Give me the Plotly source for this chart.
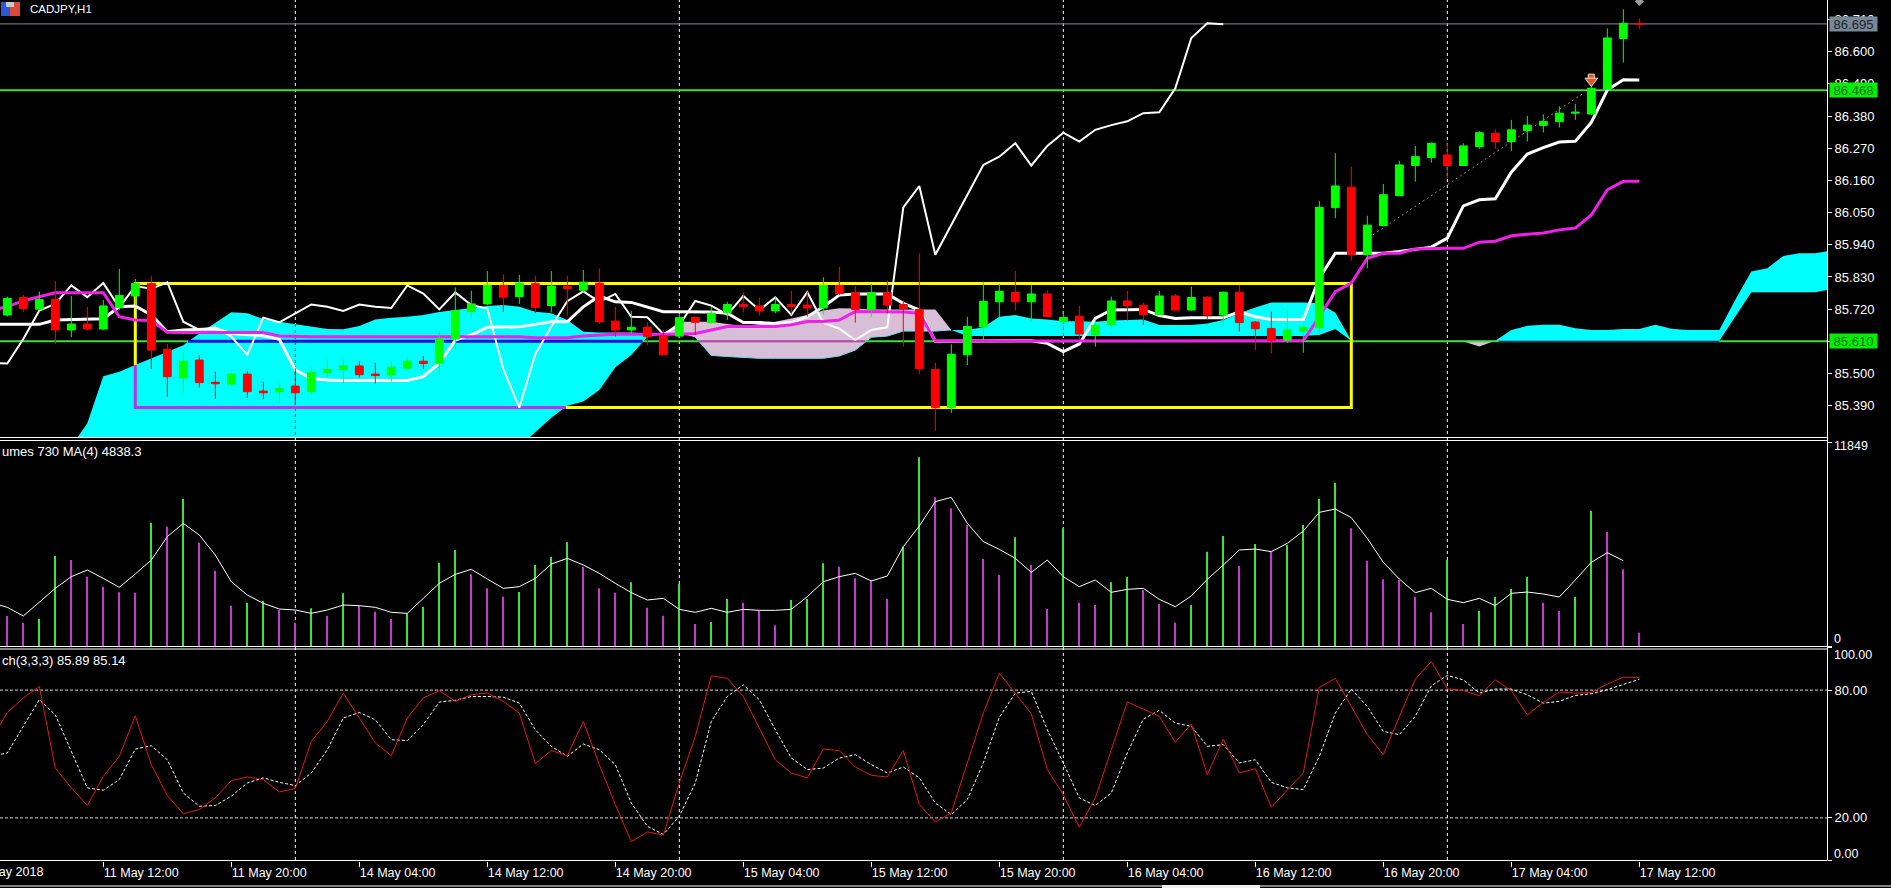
import plotly.graph_objects as go

W, H = 1891, 888

opens = [85.700, 85.760, 85.720, 85.753, 85.649, 85.669, 85.652, 85.726, 85.765, 85.808,
         85.583, 85.485, 85.546, 85.470, 85.464, 85.498, 85.440, 85.438, 85.457, 85.438,
         85.503, 85.514, 85.526, 85.498, 85.495, 85.518, 85.542, 85.535, 85.618, 85.712,
         85.738, 85.801, 85.763, 85.808, 85.732, 85.798, 85.785, 85.809, 85.679, 85.649,
         85.658, 85.628, 85.628, 85.692, 85.674, 85.708, 85.737, 85.731, 85.714, 85.736,
         85.734, 85.724, 85.801, 85.777, 85.719, 85.777, 85.736, 85.719, 85.514, 85.383,
         85.564, 85.659, 85.745, 85.777, 85.745, 85.772, 85.679, 85.696, 85.632, 85.667,
         85.748, 85.733, 85.701, 85.765, 85.717, 85.761, 85.700, 85.778, 85.676, 85.654,
         85.614, 85.645, 85.657, 86.067, 86.137, 85.906, 86.006, 86.108, 86.211, 86.238,
         86.247, 86.211, 86.275, 86.321, 86.293, 86.330, 86.348, 86.361, 86.390, 86.387,
         86.472, 86.645, 86.697]
highs = [85.763, 85.768, 85.780, 85.816, 85.765, 85.728, 85.751, 85.857, 85.823, 85.833,
         85.601, 85.578, 85.563, 85.506, 85.501, 85.509, 85.472, 85.475, 85.518, 85.521,
         85.554, 85.548, 85.543, 85.537, 85.540, 85.555, 85.560, 85.646, 85.794, 85.783,
         85.850, 85.839, 85.837, 85.833, 85.850, 85.833, 85.854, 85.859, 85.728, 85.714,
         85.675, 85.649, 85.706, 85.694, 85.728, 85.745, 85.776, 85.759, 85.763, 85.783,
         85.780, 85.829, 85.865, 85.799, 85.808, 85.819, 85.751, 85.911, 85.537, 85.600,
         85.694, 85.813, 85.808, 85.850, 85.802, 85.785, 85.714, 85.731, 85.685, 85.763,
         85.783, 85.742, 85.782, 85.772, 85.797, 85.765, 85.780, 85.802, 85.679, 85.711,
         85.715, 85.671, 86.090, 86.253, 86.207, 86.039, 86.148, 86.227, 86.278, 86.290,
         86.287, 86.287, 86.329, 86.335, 86.367, 86.381, 86.386, 86.413, 86.422, 86.492,
         86.680, 86.745, 86.714]
lows = [85.694, 85.711, 85.717, 85.601, 85.624, 85.649, 85.649, 85.717, 85.734, 85.515,
        85.421, 85.434, 85.452, 85.413, 85.457, 85.416, 85.413, 85.398, 85.392, 85.427,
        85.487, 85.466, 85.486, 85.466, 85.472, 85.514, 85.515, 85.495, 85.584, 85.691,
        85.734, 85.711, 85.738, 85.706, 85.709, 85.698, 85.776, 85.669, 85.626, 85.637,
        85.597, 85.563, 85.620, 85.632, 85.671, 85.683, 85.709, 85.698, 85.706, 85.702,
        85.694, 85.703, 85.768, 85.674, 85.694, 85.706, 85.592, 85.498, 85.304, 85.366,
        85.529, 85.614, 85.688, 85.715, 85.677, 85.692, 85.654, 85.617, 85.592, 85.654,
        85.681, 85.666, 85.699, 85.715, 85.715, 85.685, 85.663, 85.643, 85.580, 85.569,
        85.605, 85.571, 85.632, 86.031, 85.886, 85.860, 86.002, 86.107, 86.156, 86.221,
        86.168, 86.210, 86.268, 86.268, 86.261, 86.293, 86.324, 86.341, 86.367, 86.384,
        86.469, 86.563, 86.677]
closes = [85.757, 85.722, 85.753, 85.649, 85.669, 85.652, 85.731, 85.767, 85.808, 85.580,
          85.489, 85.542, 85.469, 85.465, 85.498, 85.438, 85.434, 85.449, 85.434, 85.504,
          85.514, 85.526, 85.496, 85.493, 85.521, 85.542, 85.534, 85.618, 85.715, 85.738,
          85.801, 85.761, 85.809, 85.726, 85.799, 85.790, 85.812, 85.677, 85.649, 85.658,
          85.626, 85.564, 85.691, 85.675, 85.706, 85.736, 85.728, 85.714, 85.736, 85.728,
          85.724, 85.801, 85.773, 85.719, 85.777, 85.734, 85.722, 85.516, 85.383, 85.566,
          85.661, 85.747, 85.781, 85.745, 85.772, 85.694, 85.692, 85.635, 85.665, 85.748,
          85.732, 85.701, 85.765, 85.717, 85.760, 85.700, 85.778, 85.674, 85.653, 85.614,
          85.649, 85.658, 86.068, 86.141, 85.906, 86.007, 86.111, 86.213, 86.241, 86.287,
          86.211, 86.278, 86.323, 86.293, 86.333, 86.349, 86.362, 86.390, 86.393, 86.475,
          86.647, 86.697, 86.694]

# indicator lists start one bar earlier, at the bar cut off by the left edge
tenkan = [85.668, 85.668, 85.668, 85.668, 85.683, 85.685, 85.685, 85.687, 85.728, 85.731, 85.700,
          85.643, 85.649, 85.651, 85.653, 85.637, 85.632, 85.629, 85.617, 85.512, 85.483,
          85.478, 85.476, 85.476, 85.476, 85.476, 85.476, 85.489, 85.535, 85.614, 85.632,
          85.658, 85.658, 85.660, 85.668, 85.677, 85.677, 85.728, 85.765, 85.745, 85.743,
          85.728, 85.711, 85.711, 85.711, 85.710, 85.706, 85.674, 85.674, 85.671, 85.674,
          85.694, 85.728, 85.768, 85.772, 85.772, 85.772, 85.740, 85.717, 85.610, 85.610,
          85.610, 85.610, 85.610, 85.610, 85.612, 85.603, 85.575, 85.601, 85.688, 85.717,
          85.719, 85.719, 85.698, 85.688, 85.691, 85.691, 85.691, 85.711, 85.694, 85.685,
          85.685, 85.685, 85.826, 85.911, 85.911, 85.911, 85.911, 85.917, 85.925, 85.932,
          85.963, 86.073, 86.094, 86.097, 86.188, 86.250, 86.272, 86.291, 86.294, 86.358,
          86.469, 86.504, 86.503]
kijun = [85.717, 85.728, 85.749, 85.763, 85.776, 85.776, 85.776, 85.776, 85.694, 85.683, 85.681,
         85.641, 85.640, 85.640, 85.640, 85.640, 85.640, 85.640, 85.628, 85.626, 85.626,
         85.626, 85.626, 85.626, 85.626, 85.626, 85.626, 85.626, 85.626, 85.626, 85.626,
         85.626, 85.626, 85.626, 85.622, 85.622, 85.622, 85.628, 85.632, 85.634, 85.634,
         85.634, 85.632, 85.634, 85.637, 85.649, 85.661, 85.661, 85.661, 85.661, 85.667,
         85.678, 85.678, 85.683, 85.712, 85.712, 85.712, 85.710, 85.706, 85.611, 85.611,
         85.611, 85.611, 85.611, 85.611, 85.611, 85.611, 85.611, 85.611, 85.611, 85.611,
         85.611, 85.611, 85.611, 85.611, 85.611, 85.611, 85.611, 85.611, 85.611, 85.611,
         85.611, 85.612, 85.695, 85.780, 85.809, 85.894, 85.911, 85.911, 85.926, 85.928,
         85.928, 85.928, 85.949, 85.952, 85.971, 85.976, 85.980, 85.991, 85.997, 86.042,
         86.128, 86.157, 86.157]
chikou = [85.537, 85.534, 85.618, 85.715, 85.738, 85.801, 85.761, 85.809, 85.726, 85.799, 85.790,
          85.812, 85.677, 85.649, 85.658, 85.626, 85.564, 85.691, 85.675, 85.706, 85.736,
          85.728, 85.714, 85.736, 85.728, 85.724, 85.801, 85.773, 85.719, 85.777, 85.734,
          85.722, 85.516, 85.383, 85.566, 85.661, 85.747, 85.781, 85.745, 85.772, 85.694,
          85.692, 85.635, 85.665, 85.748, 85.732, 85.701, 85.765, 85.717, 85.760, 85.700,
          85.778, 85.674, 85.653, 85.614, 85.649, 85.658, 86.068, 86.141, 85.906, 86.007,
          86.111, 86.213, 86.241, 86.287, 86.211, 86.278, 86.323, 86.293, 86.333, 86.349,
          86.362, 86.390, 86.393, 86.475, 86.647, 86.697, 86.694]

# cloud runs from bar 4 to bar 114, past the last candle
cloud_start = 4
span_a = [85.250, 85.330, 85.491, 85.506, 85.529, 85.552, 85.575, 85.597, 85.637, 85.674,
          85.709, 85.706, 85.686, 85.677, 85.669, 85.662, 85.652, 85.651, 85.662, 85.685,
          85.691, 85.694, 85.700, 85.710, 85.717, 85.726, 85.731, 85.734, 85.728, 85.711,
          85.706, 85.683, 85.643, 85.640, 85.640, 85.640, 85.637, 85.634,
          85.637, 85.624, 85.562, 85.558, 85.554, 85.552, 85.552, 85.552, 85.552, 85.552,
          85.560, 85.580, 85.624, 85.628, 85.645, 85.645, 85.645, 85.649,
          85.649, 85.658, 85.694, 85.700, 85.688, 85.685, 85.679, 85.679, 85.677, 85.681,
          85.683, 85.685, 85.666, 85.666, 85.666, 85.671, 85.683, 85.706, 85.726, 85.743,
          85.743, 85.743, 85.740, 85.708, 85.612,
          85.612, 85.612, 85.612, 85.612, 85.612, 85.612, 85.609, 85.592, 85.612,
          85.649, 85.663, 85.667, 85.667, 85.655, 85.649, 85.649, 85.652, 85.652, 85.667,
          85.653, 85.649, 85.649, 85.649, 85.752, 85.849, 85.860, 85.902, 85.911, 85.911, 85.920]
span_b = [85.250, 85.250, 85.250, 85.250, 85.250, 85.250, 85.250, 85.250, 85.250, 85.250,
          85.250, 85.250, 85.250, 85.250, 85.250, 85.250, 85.250, 85.250, 85.250, 85.250,
          85.250, 85.250, 85.250, 85.250, 85.250, 85.250, 85.250, 85.250, 85.250, 85.301,
          85.349, 85.390, 85.404, 85.444, 85.521, 85.563, 85.626, 85.634,
          85.677, 85.677, 85.677, 85.669, 85.662, 85.669, 85.677, 85.688, 85.700, 85.715,
          85.723, 85.722, 85.719, 85.719, 85.719, 85.719, 85.719, 85.649,
          85.628, 85.628, 85.628, 85.628, 85.628, 85.628, 85.628, 85.628, 85.628, 85.628,
          85.628, 85.628, 85.628, 85.628, 85.628, 85.628, 85.628, 85.628, 85.628, 85.628,
          85.628, 85.628, 85.632, 85.652, 85.612,
          85.612, 85.612, 85.612, 85.612, 85.612, 85.612, 85.612, 85.612, 85.612,
          85.612, 85.612, 85.612, 85.612, 85.612, 85.612, 85.612, 85.612, 85.612, 85.612,
          85.612, 85.612, 85.612, 85.612, 85.695, 85.778, 85.778, 85.778, 85.778, 85.778, 85.788]

volumes = [1742, 1355, 1568, 5227, 4995, 4027, 3446, 3117, 3098, 7163,
           6931, 8538, 6002, 4375, 2343, 2517, 2614, 2091, 1355, 2188,
           1762, 3059, 2323, 1994, 1568, 1897, 2284, 4840, 5576, 4162,
           3349, 2865, 3136, 4704, 5188, 6021, 4608, 3349, 3098, 3698,
           2226, 1762, 3601, 1278, 1394, 2730, 2517, 2052, 1200, 2672,
           2749, 4801, 4608, 3930, 3833, 2730, 5769, 10958, 8635, 7996,
           7028, 5053, 4124, 6311, 4704, 2149, 6834, 2517, 2381, 3698,
           4027, 3252, 2439, 1355, 2381, 5479, 6389, 4646, 5924, 5479,
           5866, 7028, 8538, 9486, 6834, 4956, 3872, 3833, 2865, 1955,
           4995, 1278, 2033, 2865, 3311, 4027, 2517, 2033, 2865, 7860,
           6621, 4453, 774]
vol_rising = [0, 0, 1, 1, 0, 0, 0, 0, 0, 1,
              0, 1, 0, 0, 0, 1, 1, 0, 0, 1,
              0, 1, 0, 0, 0, 1, 1, 1, 1, 0,
              0, 0, 1, 1, 1, 1, 0, 0, 0, 1,
              0, 0, 1, 0, 1, 1, 0, 0, 0, 1,
              1, 1, 0, 0, 0, 0, 1, 1, 0, 0,
              0, 0, 0, 1, 0, 0, 1, 0, 0, 1,
              1, 0, 0, 0, 1, 1, 1, 0, 1, 0,
              1, 1, 1, 1, 0, 0, 0, 0, 0, 0,
              1, 0, 1, 1, 1, 1, 0, 0, 1, 1,
              0, 0, 0]
vol_ma = [2517, 2246, 1742, 2536, 3349, 4027, 4414, 3930, 3407, 4182, 4995,
          6350, 7124, 6447, 5285, 3736, 2962, 2478, 2149, 2091, 1897,
          2091, 2381, 2343, 2246, 1955, 1897, 2768, 3640, 4162, 4453,
          3891, 3349, 3446, 3930, 4763, 5092, 4704, 4220, 3640, 3098,
          2672, 2768, 2130, 1955, 2188, 1955, 2130, 2072, 2072, 2130,
          2865, 3736, 4027, 4220, 3775, 4066, 5769, 6970, 8383, 8635,
          7124, 6060, 5614, 5092, 4279, 4995, 4027, 3446, 3833, 3117,
          3291, 3349, 2710, 2284, 2904, 3872, 4704, 5576, 5634, 5479,
          5963, 6679, 7763, 7957, 7454, 6253, 4859, 3891, 3098, 3349,
          2710, 2517, 2768, 2343, 3059, 3136, 3020, 2846, 3833, 4859,
          5421, 4956]

stoch_main = [56.7, 69.5, 76.3, 81.7, 43.4, 34.1, 25.8, 39.5, 48.9, 68.0, 45.0,
              30.5, 21.9, 23.9, 29.4, 37.5, 39.2, 38.0, 32.2, 33.8, 55.9,
              65.3, 78.6, 66.9, 55.2, 49.2, 66.9, 76.3, 79.8, 74.7, 77.8,
              78.6, 74.7, 69.2, 45.5, 51.6, 49.2, 65.3, 45.0, 26.3, 8.8,
              13.4, 11.9, 36.4, 58.3, 86.7, 85.5, 77.0, 62.2, 47.3, 41.1,
              38.8, 52.3, 51.6, 43.9, 40.0, 39.2, 51.7, 26.3, 18.1, 22.3,
              45.8, 69.2, 88.0, 78.6, 68.9, 42.7, 30.9, 15.6, 29.4, 52.0,
              74.4, 71.1, 67.7, 55.5, 64.1, 40.3, 57.0, 41.1, 43.1, 25.0,
              33.3, 41.1, 81.3, 85.5, 72.3, 59.1, 49.7, 67.7, 85.2, 93.4,
              80.6, 79.8, 77.3, 84.8, 79.8, 68.4, 74.2, 79.1, 78.6, 78.9,
              82.8, 86.1, 85.9]
stoch_signal = [48.9, 50.5, 63.0, 75.5, 68.4, 51.3, 34.1, 33.0, 38.0, 52.3, 53.9,
                47.3, 31.7, 25.5, 25.8, 30.2, 36.4, 38.8, 36.7, 35.2, 41.1,
                52.0, 66.9, 69.5, 66.1, 56.7, 56.3, 63.8, 74.4, 75.2, 77.0,
                77.0, 76.7, 73.9, 61.4, 53.6, 48.9, 54.7, 52.0, 45.0, 27.0,
                16.1, 12.2, 20.8, 36.4, 65.3, 77.0, 82.5, 75.5, 61.4, 48.1,
                42.7, 43.4, 48.1, 49.7, 45.0, 41.1, 43.9, 38.8, 27.0, 21.6,
                28.6, 45.8, 67.2, 78.6, 79.4, 61.4, 45.8, 29.4, 25.8, 31.7,
                50.5, 66.4, 70.5, 64.5, 63.0, 53.6, 54.4, 45.8, 47.3, 36.7,
                34.1, 33.3, 48.9, 69.2, 80.5, 72.3, 60.6, 59.1, 67.7, 82.0,
                86.9, 84.8, 78.6, 80.5, 80.5, 77.8, 73.9, 74.7, 77.5, 78.3,
                80.2, 82.8, 85.1]

time_ticks = [6, 14, 22, 30, 38, 46, 54, 62, 70, 78, 86, 94, 102]
time_labels = ["11 May 12:00", "11 May 20:00", "14 May 04:00", "14 May 12:00", "14 May 20:00",
               "15 May 04:00", "15 May 12:00", "15 May 20:00", "16 May 04:00", "16 May 12:00",
               "16 May 20:00", "17 May 04:00", "17 May 12:00"]
day_breaks = [18, 42, 66, 90]
price_ticks = [85.39, 85.50, 85.61, 85.72, 85.83, 85.94, 86.05, 86.16, 86.27, 86.38, 86.49, 86.60, 86.71]
price_now = 86.695
level_high = 86.468
level_low = 85.610
rect_left, rect_right, rect_top, rect_bottom = 8, 84, 85.808, 85.384
rect_cloud_exit = 34.9
blue_runs = [(11.3, 39.7), (93.2, 107)]
thistle_run = (43.2, 53.6)
trend_x, trend_y = [85.35, 98.5], [85.974, 86.458]
sell_x, sell_head_y, sell_shaft_y = [99], [86.500], [86.513]
pending_x, pending_y = [102], [86.772]

bars = list(range(len(closes)))
line_bars = [-1] + bars
x_range = [-0.456, 113.73]
price_range = [85.283, 86.7767]
FONT = "Liberation Sans"
GREEN, MAGENTA = "#00ff00", "#f020e8"
LEVEL_GREEN = "#3fdc3f"
PURPLE = "#c02ff0"


def px_x(x):
    return x / W


def px_y(y):
    return 1 - y / H


def cloud(first, last, color):
    s, e = first - cloud_start, last - cloud_start + 1
    xs = list(range(first, last + 1))
    return go.Scatter(x=xs + xs[::-1], y=span_a[s:e] + span_b[s:e][::-1], mode="lines",
                      fill="toself", fillcolor=color, line=dict(width=0, color=color),
                      hoverinfo="skip", showlegend=False)


def line(xs, ys, color, width=1, dash=None, xa="x", ya="y"):
    return go.Scatter(x=xs, y=ys, mode="lines", line=dict(color=color, width=width, dash=dash),
                      xaxis=xa, yaxis=ya, hoverinfo="skip", showlegend=False)


fig = go.Figure()

# ichimoku cloud
for first, last, color in [(4, 41, "#00ffff"), (41, 59, "#d8bfd8"), (59, 84, "#00ffff"),
                           (90, 93, "#d8bfd8"), (93, 114, "#00ffff")]:
    fig.add_trace(cloud(first, last, color))
fig.add_trace(line(list(range(43, 60)), span_a[43 - cloud_start:60 - cloud_start], "#70e0f0", 1))
fig.add_trace(line(list(range(93, 108)), span_b[93 - cloud_start:108 - cloud_start], "#f0f0f0", 0.5))

# separators show up red where they cross the cloud
for b in day_breaks[:1] + day_breaks[2:3]:
    fig.add_trace(line([b, b], [span_a[b - cloud_start], span_b[b - cloud_start]], "#c02020", 1, "3px,3px"))

# horizontal levels, colours flip where they pass the cloud
fig.add_trace(line(x_range, [price_now, price_now], "#8a8d98", 1))
fig.add_trace(line(x_range, [level_high, level_high], LEVEL_GREEN, 2))
fig.add_trace(line(x_range, [level_low, level_low], LEVEL_GREEN, 2))
for a, b in blue_runs:
    w = 3 if a < 50 else 1
    fig.add_trace(line([a, b], [level_low, level_low], "#1010e0", w))
fig.add_trace(line(list(thistle_run), [level_low, level_low], "#d038c8", 2))

# rectangle object, purple inside the cloud
left_in_cloud = span_a[rect_left - cloud_start]
fig.add_trace(line([rect_left, rect_left, rect_right, rect_right, rect_cloud_exit],
                   [left_in_cloud, rect_top, rect_top, rect_bottom, rect_bottom], "#ffff00", 3))
fig.add_trace(line([rect_left, rect_left, rect_cloud_exit],
                   [left_in_cloud, rect_bottom, rect_bottom], PURPLE, 3))

fig.add_trace(line(trend_x, trend_y, "#8c8468", 1, "2px,3px"))
fig.add_trace(line(line_bars[:len(chikou)], chikou, "#ffffff", 2))
fig.add_trace(line(line_bars, tenkan, "#ffffff", 3))
fig.add_trace(line(line_bars, kijun, MAGENTA, 3))

# candles sit on an overlaid axis pair so they stay above the scatter lines
fig.add_trace(go.Candlestick(
    x=bars, open=opens, high=highs, low=lows, close=closes, xaxis="x4", yaxis="y4",
    increasing=dict(line=dict(color=GREEN, width=1), fillcolor=GREEN),
    decreasing=dict(line=dict(color="#ff0000", width=1), fillcolor="#ff0000"),
    whiskerwidth=0, hoverinfo="skip", showlegend=False))
fig.add_trace(go.Scatter(x=sell_x, y=sell_shaft_y, mode="markers", xaxis="x4", yaxis="y4", showlegend=False,
                         marker=dict(symbol="square", size=6, color="#e0562a",
                                     line=dict(color="#f0e0d0", width=1)), hoverinfo="skip"))
fig.add_trace(go.Scatter(x=sell_x, y=sell_head_y, mode="markers", xaxis="x4", yaxis="y4", showlegend=False,
                         marker=dict(symbol="triangle-down", size=11, color="#e0562a",
                                     line=dict(color="#f0e0d0", width=1)), hoverinfo="skip"))
fig.add_trace(go.Scatter(x=pending_x, y=pending_y, mode="markers", xaxis="x4", yaxis="y4", showlegend=False,
                         marker=dict(symbol="diamond", size=7, color="#9a9a9a"), hoverinfo="skip"))

# volumes
fig.add_trace(go.Bar(x=bars, y=volumes, width=0.055, xaxis="x2", yaxis="y2", showlegend=False,
                     marker=dict(color=["#3fe03f" if r else "#c838d0" for r in vol_rising], line=dict(width=0)),
                     hoverinfo="skip"))
fig.add_trace(line(line_bars[:len(vol_ma)], vol_ma, "#ffffff", 1, None, "x2", "y2"))

# stochastic
fig.add_trace(line(x_range, [80, 80], "#d8d8d8", 1, "3px,2px", "x3", "y3"))
fig.add_trace(line(x_range, [20, 20], "#d8d8d8", 1, "3px,2px", "x3", "y3"))
fig.add_trace(line(line_bars, stoch_signal, "#ffffff", 1, "3px,2px", "x3", "y3"))
fig.add_trace(line(line_bars, stoch_main, "#e01818", 1, None, "x3", "y3"))

tick_font = dict(family=FONT, size=13, color="#ffffff")
plain_x = dict(domain=[0, 1827 / W], range=x_range, showgrid=False, zeroline=False, showticklabels=False,
               ticks="", showline=False, fixedrange=True)
plain_y = dict(side="right", showgrid=False, zeroline=False, fixedrange=True, ticks="outside", ticklen=4,
               tickcolor="#ffffff", tickfont=tick_font, showline=False)

shapes = []
for b in day_breaks:
    shapes.append(dict(type="line", xref="x", yref="paper", x0=b, x1=b, y0=px_y(860), y1=1,
                       line=dict(color="#ffffff", width=1, dash="3px,3px"), layer="below"))
for y, x1 in [(437.5, 1827), (440.5, 1827), (646.5, 1827), (649, 1827), (860.5, 1827), (886, 1162), (886, W)]:
    x0 = 1260 if (y == 886 and x1 == W) else 0
    shapes.append(dict(type="line", xref="paper", yref="paper", x0=px_x(x0), x1=px_x(x1), y0=px_y(y), y1=px_y(y),
                       line=dict(color="#ffffff", width=1)))
shapes.append(dict(type="line", xref="paper", yref="paper", x0=px_x(1827.5), x1=px_x(1827.5), y0=px_y(860.5), y1=1,
                   line=dict(color="#ffffff", width=1)))
shapes.append(dict(type="rect", xref="paper", yref="paper", x0=px_x(1162), x1=px_x(1260), y0=0, y1=px_y(885),
                   fillcolor="#f0f0f0", line=dict(width=0)))
# chart window icon
shapes.append(dict(type="rect", xref="paper", yref="paper", x0=px_x(1), x1=px_x(10), y0=px_y(16), y1=px_y(2),
                   fillcolor="#2f55d8", line=dict(width=0)))
shapes.append(dict(type="rect", xref="paper", yref="paper", x0=px_x(10), x1=px_x(20), y0=px_y(16), y1=px_y(2),
                   fillcolor="#d84a3a", line=dict(width=0)))
shapes.append(dict(type="rect", xref="paper", yref="paper", x0=px_x(6), x1=px_x(14), y0=px_y(7), y1=px_y(2),
                   fillcolor="#c8c8c8", line=dict(width=0)))


def label(x, y, text, size=13, color="#ffffff", anchor="left", **kw):
    return dict(xref="paper", yref="paper", x=px_x(x), y=px_y(y), text=text, showarrow=False, xanchor=anchor,
                yanchor="middle", font=dict(family=FONT, size=size, color=color), **kw)


annotations = [
    label(28, 9, "CADJPY,H1", 11.5),
    label(0, 451, "umes 730 MA(4) 4838.3"),
    label(0, 660, "ch(3,3,3) 85.89 85.14"),
    label(45, 872, "11 May 2018", 12.5, anchor="right"),
    label(1832, 446, "11849", 12.5),
    label(1832, 639, "0", 12.5),
    label(1832, 655, "100.00", 12.5),
    label(1832, 854, "0.00", 12.5),
    label(1829, 24.5, "86.695", 13, "#20242c", bgcolor="#778899", width=47, height=14, borderpad=0),
    label(1829, 90, "86.468", 13, "#0a6a0a", bgcolor="#00f000", width=47, height=14, borderpad=0),
    label(1829, 341, "85.610", 13, "#0a6a0a", bgcolor="#00f000", width=47, height=14, borderpad=0),
]

fig.update_layout(
    width=W, height=H, margin=dict(l=0, r=0, t=0, b=0), paper_bgcolor="#000000", plot_bgcolor="rgba(0,0,0,0)",
    showlegend=False, barmode="overlay", boxgap=0.3, dragmode=False, hovermode=False,
    shapes=shapes, annotations=annotations,
    xaxis=dict(plain_x, anchor="y"),
    xaxis2=dict(plain_x, anchor="y2"),
    xaxis3=dict(plain_x, anchor="y3", showticklabels=True, ticks="outside", ticklen=5, tickcolor="#ffffff",
                tickvals=time_ticks, ticktext=time_labels, ticklabelposition="outside right",
                tickfont=dict(family=FONT, size=12.5, color="#ffffff")),
    xaxis4=dict(plain_x, anchor="y4", overlaying="x", rangeslider=dict(visible=False), visible=False),
    yaxis=dict(plain_y, domain=[px_y(437), 1], range=price_range, anchor="x", tickvals=price_ticks,
               ticktext=[f"{p:.3f}" for p in price_ticks]),
    yaxis2=dict(plain_y, domain=[px_y(646), px_y(440)], range=[0, 11965], anchor="x2", tickvals=[0, 11849],
                ticktext=["", ""]),
    yaxis3=dict(plain_y, domain=[px_y(860.5), px_y(647.5)], range=[0, 100], anchor="x3", tickvals=[0, 20, 80, 100],
                ticktext=["", "20.00", "80.00", ""]),
    yaxis4=dict(domain=[px_y(437), 1], range=price_range, anchor="x4", overlaying="y", side="right", visible=False,
                fixedrange=True),
)

fig.write_html("out.html", config=dict(displayModeBar=False),
               post_script="document.body.style.margin='0';document.body.style.background='#000';")
